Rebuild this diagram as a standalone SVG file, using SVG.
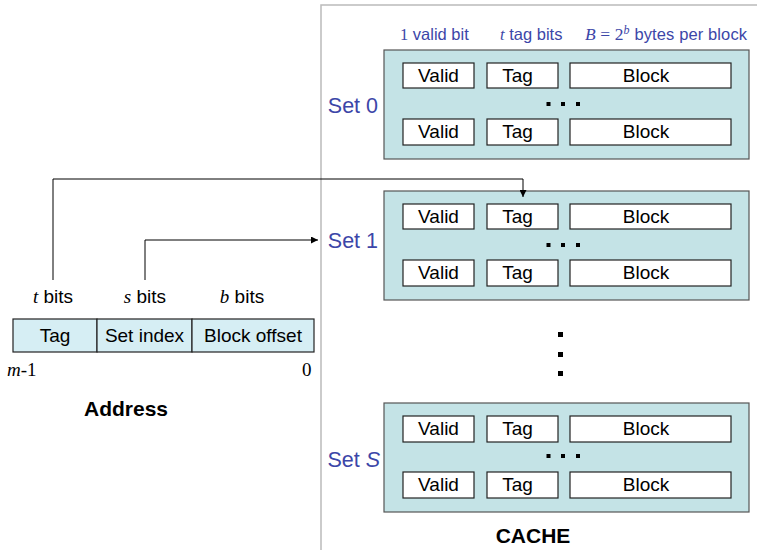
<svg xmlns="http://www.w3.org/2000/svg" width="757" height="550" viewBox="0 0 757 550">
<defs>
<marker id="arr" viewBox="0 0 10 10" refX="10" refY="5" markerWidth="7" markerHeight="7" markerUnits="userSpaceOnUse" orient="auto">
<path d="M0,0 L10,5 L0,10 z" fill="#000"/>
</marker>
<style>
.set{fill:#c4e3e6;stroke:#555;stroke-width:1.2}
.cell{fill:#fff;stroke:#222;stroke-width:1.2}
.addr{fill:#d6eef4;stroke:#222;stroke-width:1.2}
.t{font-family:"Liberation Sans",Arial,sans-serif;font-size:19px;fill:#000;text-anchor:middle}
.lbl{font-family:"Liberation Sans",Arial,sans-serif;font-size:21.5px;fill:#3c46a8;text-anchor:end}
.hdr{font-family:"Liberation Sans",Arial,sans-serif;font-size:16.5px;fill:#3c46a8}
.bits{font-family:"Liberation Sans",Arial,sans-serif;font-size:19px;fill:#000;text-anchor:middle}
.ser{font-family:"Liberation Serif","Times New Roman",serif;font-style:italic}
.bold{font-family:"Liberation Sans",Arial,sans-serif;font-size:21px;font-weight:bold;fill:#000;text-anchor:middle}
.dot{fill:#000}
.conn{fill:none;stroke:#000;stroke-width:1}
.frame{fill:none;stroke:#bbb;stroke-width:1.5}
</style>
</defs>
<path class="frame" d="M321,550 L321,5 L757,5"/>
<g id="header">
<text class="hdr" x="400" y="40"><tspan font-family="Liberation Serif, serif">1</tspan> valid bit</text>
<text class="hdr" x="500" y="40"><tspan class="ser">t</tspan> tag bits</text>
<text class="hdr" x="585" y="40" textLength="162" lengthAdjust="spacing"><tspan class="ser" font-size="17.5">B</tspan><tspan font-family="Liberation Serif, serif" font-size="17.5"> = 2</tspan><tspan class="ser" font-size="12" dy="-6">b</tspan><tspan dy="6"> bytes per block</tspan></text>
</g>
<g id="set0">
<rect class="set" x="384" y="50" width="365" height="109"/>
<rect class="cell" x="403" y="63" width="71" height="25"/><text class="t" x="438.5" y="82">Valid</text>
<rect class="cell" x="487" y="63" width="71" height="25"/><text class="t" x="517.5" y="82">Tag</text>
<rect class="cell" x="570" y="63" width="161" height="25"/><text class="t" x="646" y="82">Block</text>
<rect class="dot" x="546.5" y="102" width="4" height="4"/><rect class="dot" x="561" y="102" width="4" height="4"/><rect class="dot" x="576" y="102" width="4" height="4"/>
<rect class="cell" x="403" y="119" width="71" height="26"/><text class="t" x="438.5" y="138">Valid</text>
<rect class="cell" x="487" y="119" width="71" height="26"/><text class="t" x="517.5" y="138">Tag</text>
<rect class="cell" x="570" y="119" width="161" height="26"/><text class="t" x="646" y="138">Block</text>
<text class="lbl" x="378" y="113">Set 0</text>
</g>
<g id="set1">
<rect class="set" x="384" y="191" width="365" height="109"/>
<rect class="cell" x="403" y="204" width="71" height="25"/><text class="t" x="438.5" y="223">Valid</text>
<rect class="cell" x="487" y="204" width="71" height="25"/><text class="t" x="517.5" y="223">Tag</text>
<rect class="cell" x="570" y="204" width="161" height="25"/><text class="t" x="646" y="223">Block</text>
<rect class="dot" x="546.5" y="243" width="4" height="4"/><rect class="dot" x="561" y="243" width="4" height="4"/><rect class="dot" x="576" y="243" width="4" height="4"/>
<rect class="cell" x="403" y="260" width="71" height="26"/><text class="t" x="438.5" y="279">Valid</text>
<rect class="cell" x="487" y="260" width="71" height="26"/><text class="t" x="517.5" y="279">Tag</text>
<rect class="cell" x="570" y="260" width="161" height="26"/><text class="t" x="646" y="279">Block</text>
<text class="lbl" x="378" y="248">Set 1</text>
</g>
<g id="vdots">
<rect class="dot" x="558" y="332" width="5" height="5"/><rect class="dot" x="558" y="352" width="5" height="5"/><rect class="dot" x="558" y="371" width="5" height="5"/>
</g>
<g id="setS">
<rect class="set" x="384" y="403" width="365" height="109"/>
<rect class="cell" x="403" y="416" width="71" height="26"/><text class="t" x="438.5" y="435">Valid</text>
<rect class="cell" x="487" y="416" width="71" height="26"/><text class="t" x="517.5" y="435">Tag</text>
<rect class="cell" x="570" y="416" width="161" height="26"/><text class="t" x="646" y="435">Block</text>
<rect class="dot" x="546.5" y="454" width="4" height="4"/><rect class="dot" x="561" y="454" width="4" height="4"/><rect class="dot" x="576" y="454" width="4" height="4"/>
<rect class="cell" x="403" y="472" width="71" height="26"/><text class="t" x="438.5" y="491">Valid</text>
<rect class="cell" x="487" y="472" width="71" height="26"/><text class="t" x="517.5" y="491">Tag</text>
<rect class="cell" x="570" y="472" width="161" height="26"/><text class="t" x="646" y="491">Block</text>
<text class="lbl" x="380" y="467">Set <tspan font-style="italic">S</tspan></text>
</g>
<text class="bold" x="533" y="543">CACHE</text>
<g id="address">
<rect class="addr" x="13" y="319" width="84" height="33"/><text class="t" x="55" y="342">Tag</text>
<rect class="addr" x="97" y="319" width="95" height="33"/><text class="t" x="144.5" y="342">Set index</text>
<rect class="addr" x="192" y="319" width="122" height="33"/><text class="t" x="253" y="342">Block offset</text>
<text class="bits" x="53" y="303"><tspan class="ser">t</tspan> bits</text>
<text class="bits" x="145" y="303"><tspan class="ser">s</tspan> bits</text>
<text class="bits" x="242" y="303"><tspan class="ser">b</tspan> bits</text>
<text x="7" y="376" font-family="Liberation Serif, serif" font-size="19"><tspan font-style="italic">m</tspan>-1</text>
<text x="302" y="376" font-family="Liberation Serif, serif" font-size="19">0</text>
<text class="bold" x="126" y="416">Address</text>
</g>
<g id="connectors">
<path class="conn" d="M53,280 L53,179 L523,179 L523,197" marker-end="url(#arr)"/>
<path class="conn" d="M145,280 L145,240 L318,240" marker-end="url(#arr)"/>
</g>
</svg>
